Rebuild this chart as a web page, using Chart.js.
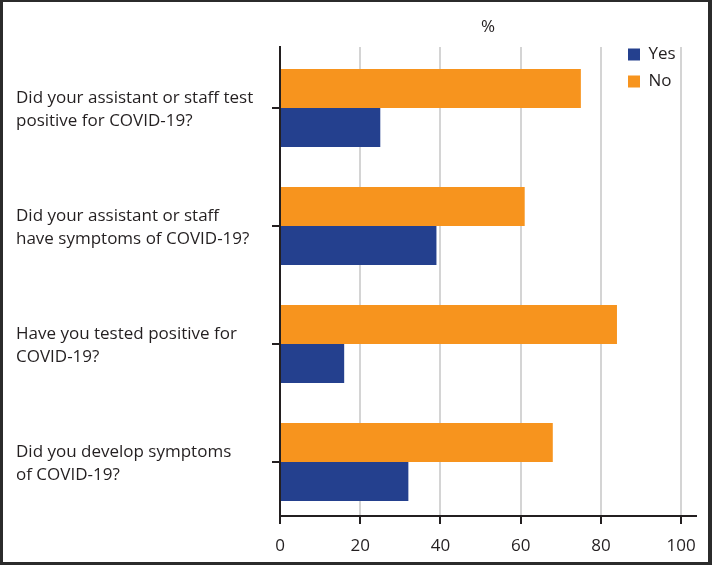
<!DOCTYPE html>
<html>
<head>
<meta charset="utf-8">
<script src="https://cdn.jsdelivr.net/npm/chart.js@4/dist/chart.umd.min.js"></script>
<style>
  html, body { margin: 0; padding: 0; background: #fff; }
  #wrap { position: relative; width: 712px; height: 565px; }
  #frame {
    position: absolute; left: 0; top: 0; width: 712px; height: 565px;
    box-sizing: border-box; border: solid #2b2b2b;
    border-width: 2px 4px 3px 3px; pointer-events: none;
  }
</style>
</head>
<body>
<div id="wrap">
  <canvas id="chart" width="712" height="565"></canvas>
  <div id="frame"></div>
</div>
<script>
// survey questions (y axis), top to bottom
const questions = [
  ["Did your assistant or staff test", "positive for COVID-19?"],
  ["Did your assistant or staff", "have symptoms of COVID-19?"],
  ["Have you tested positive for", "COVID-19?"],
  ["Did you develop symptoms", "of COVID-19?"]
];
// % answering each way
const noPct  = [75, 61, 84, 68];
const yesPct = [25, 39, 16, 32];
const xTicks = [0, 20, 40, 60, 80, 100];

const ink = "#231f20";
const font = { family: "'Open Sans', sans-serif", size: 17 };

// put the legend in the top-right corner of the plot
const legendSpot = {
  id: "legendSpot",
  afterLayout(chart) {
    const lg = chart.legend;
    const w = lg.width, h = lg.height;
    lg.left = 618; lg.top = 36;
    lg.right = lg.left + w; lg.bottom = lg.top + h;
  }
};

new Chart(document.getElementById("chart"), {
  type: "bar",
  data: {
    datasets: [
      { label: "No",  data: noPct.map((v, i) => ({ x: v, y: i })),  backgroundColor: "#f7941e" },
      { label: "Yes", data: yesPct.map((v, i) => ({ x: v, y: i })), backgroundColor: "#24408e" }
    ]
  },
  options: {
    indexAxis: "y",
    responsive: false,
    animation: false,
    categoryPercentage: 0.66,
    barPercentage: 1,
    layout: { padding: { left: 16, right: 16, top: 0, bottom: 0 } },
    scales: {
      y: {
        type: "linear",
        reverse: true,
        offset: false,
        min: -0.517,
        max: 3.458,
        afterBuildTicks: s => { s.ticks = questions.map((q, i) => ({ value: i })); },
        afterFit: s => { s.width = 264; },
        ticks: {
          callback: v => questions[v],
          crossAlign: "far",
          color: ink,
          font: { ...font, lineHeight: 1.35 },
          labelOffset: 2
        },
        grid: { offset: false, drawOnChartArea: false, drawTicks: true, tickLength: 8, color: ink, lineWidth: 2 },
        border: { color: ink, width: 2 }
      },
      x: {
        min: 0,
        max: 103.7,
        afterBuildTicks: s => { s.ticks = xTicks.map(v => ({ value: v })); },
        afterFit: s => { s.height = 49; },
        ticks: { color: ink, font, padding: 12, maxRotation: 0 },
        grid: {
          color: c => (c.tick && c.tick.value === 0 ? ink : "#d4d4d4"),
          lineWidth: 2,
          tickColor: ink,
          tickLength: 8,
          tickWidth: 2
        },
        border: { color: ink, width: 2 }
      },
      x2: {
        position: "top",
        min: 0,
        max: 100,
        afterFit: s => { s.height = 47; },
        ticks: { display: false },
        grid: { display: false, drawTicks: false },
        border: { display: false },
        title: { display: true, text: "%", color: ink, font, padding: { top: 17, bottom: 0 } }
      }
    },
    plugins: {
      legend: {
        position: "chartArea",
        align: "start",
        reverse: true,
        labels: { boxWidth: 12, boxHeight: 12, padding: 10, color: ink, font }
      },
      tooltip: { enabled: false }
    }
  },
  plugins: [legendSpot]
});
</script>
</body>
</html>
